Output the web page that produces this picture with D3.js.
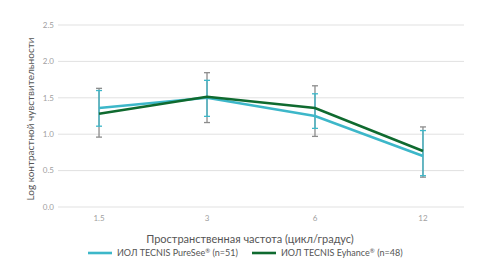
<!DOCTYPE html>
<html>
<head>
<meta charset="utf-8">
<script src="https://cdn.jsdelivr.net/npm/d3@7"></script>
<style>
  html, body { margin: 0; padding: 0; background: #fff; }
  svg { display: block; font-family: Lato, "Noto Sans", sans-serif; }
</style>
</head>
<body>
<svg id="chart" width="488" height="274"></svg>
<script>
// data
const frequencies = ['1.5', '3', '6', '12'];
const yTicks = [0, 0.5, 1.0, 1.5, 2.0, 2.5];

const pureSee = [1.36, 1.50, 1.25, 0.70];
const pureSeeLow = [1.11, 1.245, 1.08, 0.43];
const pureSeeHigh = [1.60, 1.74, 1.555, 1.05];

const eyhance = [1.28, 1.515, 1.36, 0.77];
const eyhanceLow = [0.96, 1.16, 0.97, 0.41];
const eyhanceHigh = [1.63, 1.845, 1.665, 1.10];

// legend names split around the ® mark so it can be drawn raised
const seriesNames = [
  ['ИОЛ TECNIS PureSee', '®', ' (n=51)'],
  ['ИОЛ TECNIS Eyhance', '®', ' (n=48)']
];
const colors = { pureSee: '#3db7c9', eyhance: '#0f6a2f', errGrey: '#8c8c8c' };

const svg = d3.select('#chart');
const plot = { left: 58, right: 464, top: 25, bottom: 207 };

const x = d3.scalePoint().domain(frequencies).range([plot.left, plot.right]).padding(0.38);
const y = d3.scaleLinear().domain([0, 2.5]).range([plot.bottom, plot.top]);

// gridlines
svg.append('g')
  .selectAll('line')
  .data(yTicks)
  .enter()
  .append('line')
  .attr('x1', plot.left)
  .attr('x2', plot.right)
  .attr('y1', d => y(d))
  .attr('y2', d => y(d))
  .attr('stroke', '#e1e1e1')
  .attr('stroke-width', 1);

// y tick labels
svg.append('g')
  .selectAll('text')
  .data(yTicks)
  .enter()
  .append('text')
  .attr('x', plot.left - 4)
  .attr('y', d => y(d))
  .attr('dy', '0.35em')
  .attr('text-anchor', 'end')
  .attr('font-size', 8)
  .attr('fill', '#a0a0a0')
  .text(d => d.toFixed(1));

// x tick labels
svg.append('g')
  .selectAll('text')
  .data(frequencies)
  .enter()
  .append('text')
  .attr('x', d => x(d))
  .attr('y', plot.bottom + 14)
  .attr('text-anchor', 'middle')
  .attr('font-size', 8)
  .attr('fill', '#a0a0a0')
  .text(d => d);

// axis titles
svg.append('text')
  .attr('x', 250)
  .attr('y', 243)
  .attr('text-anchor', 'middle')
  .attr('font-size', 11)
  .attr('fill', '#555')
  .text('Пространственная частота (цикл/градус)');

svg.append('text')
  .attr('transform', `translate(34,${119}) rotate(-90)`)
  .attr('text-anchor', 'middle')
  .attr('font-size', 10)
  .attr('fill', '#555')
  .text('Log контрастной чувствительности');

// error bars
function drawErrors(low, high, color) {
  const g = svg.append('g');
  frequencies.forEach((f, i) => {
    const cx = x(f);
    g.append('line')
      .attr('x1', cx).attr('x2', cx)
      .attr('y1', y(low[i])).attr('y2', y(high[i]))
      .attr('stroke', color).attr('stroke-width', 1.3);
    [low[i], high[i]].forEach(v => {
      g.append('line')
        .attr('x1', cx - 3).attr('x2', cx + 3)
        .attr('y1', y(v)).attr('y2', y(v))
        .attr('stroke', color).attr('stroke-width', 1.3);
    });
  });
}
drawErrors(eyhanceLow, eyhanceHigh, colors.errGrey);
drawErrors(pureSeeLow, pureSeeHigh, colors.pureSee);

// lines
const line = d3.line().x((d, i) => x(frequencies[i])).y(d => y(d));
svg.append('path')
  .datum(pureSee)
  .attr('d', line)
  .attr('fill', 'none')
  .attr('stroke', colors.pureSee)
  .attr('stroke-width', 2.6);
svg.append('path')
  .datum(eyhance)
  .attr('d', line)
  .attr('fill', 'none')
  .attr('stroke', colors.eyhance)
  .attr('stroke-width', 2.6);

// legend
const legendItems = [
  { name: seriesNames[0], color: colors.pureSee, x: 88 },
  { name: seriesNames[1], color: colors.eyhance, x: 252 }
];
const legend = svg.append('g');
legendItems.forEach(item => {
  legend.append('line')
    .attr('x1', item.x).attr('x2', item.x + 24)
    .attr('y1', 253).attr('y2', 253)
    .attr('stroke', item.color).attr('stroke-width', 2.6);
  const t = legend.append('text')
    .attr('x', item.x + 29)
    .attr('y', 256)
    .attr('font-size', 9)
    .attr('fill', '#555');
  t.append('tspan').text(item.name[0]);
  t.append('tspan').attr('font-size', 6).attr('dy', -3).text(item.name[1]);
  t.append('tspan').attr('dy', 3).text(item.name[2]);
});
</script>
</body>
</html>
